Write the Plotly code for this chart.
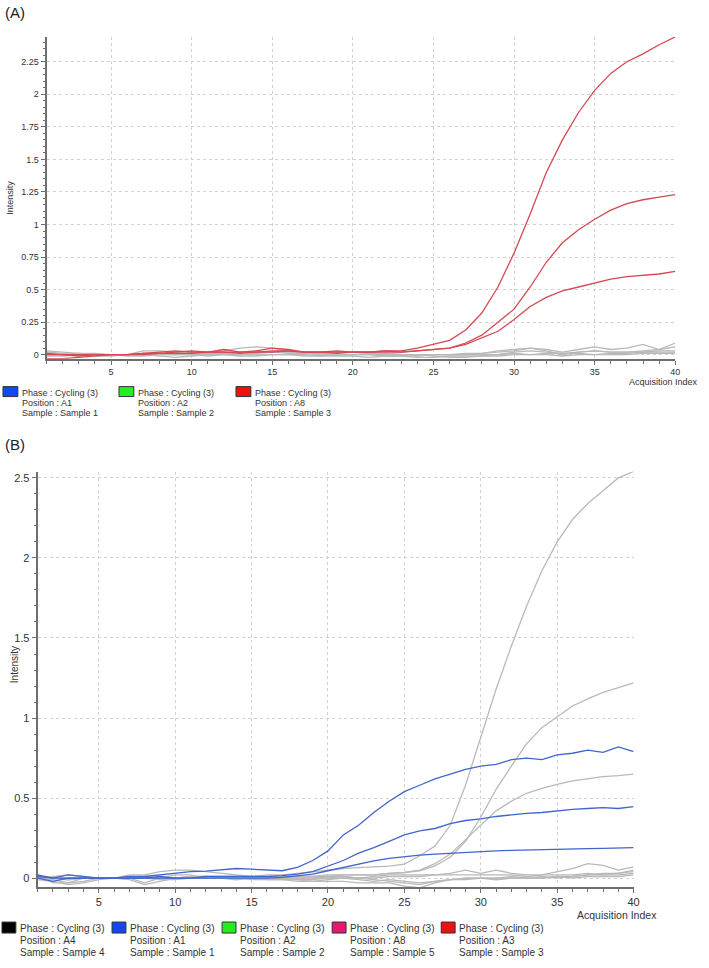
import plotly.graph_objects as go

W, H = 709, 968
cycles = list(range(1, 41))

# ---------------- Panel A data ----------------
a_red_1 = [0.01, 0.0, -0.01, 0.0, 0.0, 0.0, 0.01, 0.02, 0.03, 0.02, 0.02, 0.04, 0.02, 0.03, 0.05, 0.04,
           0.02, 0.02, 0.03, 0.02, 0.02, 0.03, 0.03, 0.05, 0.08, 0.11, 0.19, 0.32, 0.52, 0.78, 1.08, 1.40,
           1.65, 1.86, 2.03, 2.16, 2.25, 2.31, 2.38, 2.44]
a_red_2 = [-0.03, -0.03, -0.02, -0.01, 0.0, 0.0, 0.0, 0.01, 0.01, 0.01, 0.02, 0.02, 0.02, 0.02, 0.03, 0.03,
           0.02, 0.02, 0.02, 0.02, 0.02, 0.02, 0.02, 0.03, 0.04, 0.05, 0.09, 0.15, 0.25, 0.35, 0.52, 0.71,
           0.86, 0.96, 1.04, 1.11, 1.16, 1.19, 1.21, 1.23]
a_red_3 = [0.0, 0.0, 0.0, 0.0, 0.0, 0.0, 0.01, 0.01, 0.02, 0.03, 0.02, 0.02, 0.01, 0.02, 0.02, 0.03,
           0.02, 0.02, 0.01, 0.02, 0.02, 0.03, 0.02, 0.03, 0.04, 0.05, 0.08, 0.13, 0.18, 0.27, 0.37, 0.44,
           0.49, 0.52, 0.55, 0.58, 0.60, 0.61, 0.62, 0.64]
a_gray_1 = [0.03, 0.02, 0.01, 0.0, 0.0, 0.0, 0.03, 0.03, 0.02, 0.02, 0.02, 0.03, 0.05, 0.06, 0.05, 0.03,
            0.02, 0.02, 0.02, 0.02, 0.02, 0.01, 0.0, 0.0, -0.01, -0.02, -0.02, -0.01, 0.0, 0.02, 0.03, 0.02,
            0.01, 0.02, 0.03, 0.02, 0.02, 0.03, 0.04, 0.06]
a_gray_2 = [0.02, 0.01, 0.0, 0.0, 0.0, 0.0, 0.01, 0.0, 0.0, 0.01, 0.01, 0.01, 0.0, 0.01, 0.02, 0.01,
            0.01, 0.01, 0.0, 0.0, 0.01, 0.01, 0.0, 0.0, 0.0, 0.0, 0.01, 0.01, 0.02, 0.03, 0.05, 0.03,
            0.0, 0.02, 0.03, 0.02, 0.02, 0.02, 0.03, 0.03]
a_gray_3 = [0.0, 0.0, 0.01, 0.01, 0.0, 0.0, 0.0, 0.01, 0.0, 0.0, 0.0, 0.01, 0.02, 0.02, 0.02, 0.02,
            0.01, 0.0, 0.0, 0.0, 0.0, 0.0, 0.0, 0.0, 0.0, 0.0, 0.0, 0.01, 0.03, 0.04, 0.05, 0.04,
            0.02, 0.04, 0.06, 0.04, 0.05, 0.08, 0.04, 0.09]
a_gray_4 = [-0.01, -0.01, 0.0, 0.0, 0.0, -0.01, -0.01, 0.0, 0.0, 0.0, -0.01, 0.0, 0.0, 0.0, 0.0, 0.0,
            -0.01, -0.01, 0.0, 0.0, 0.0, -0.01, -0.01, -0.01, 0.0, 0.0, 0.0, 0.0, 0.0, 0.01, 0.0, 0.01,
            0.01, 0.01, 0.0, 0.01, 0.01, 0.02, 0.02, 0.02]
a_gray_5 = [0.01, 0.0, 0.0, -0.01, -0.01, 0.0, 0.0, -0.01, -0.02, -0.01, 0.0, 0.0, -0.01, -0.01, 0.0, 0.0,
            0.0, -0.01, -0.01, -0.01, -0.02, -0.01, -0.01, -0.02, -0.02, -0.01, -0.01, -0.01, -0.01, 0.0, 0.0, 0.0,
            -0.01, 0.0, 0.0, 0.0, 0.0, 0.01, 0.01, 0.01]

# ---------------- Panel B data ----------------
b_blue_1 = [0.02, 0.0, 0.02, 0.01, 0.0, 0.0, 0.01, 0.01, 0.02, 0.03, 0.04, 0.044, 0.05, 0.06, 0.056, 0.05,
            0.046, 0.067, 0.11, 0.17, 0.27, 0.33, 0.41, 0.48, 0.54, 0.58, 0.62, 0.65, 0.68, 0.70, 0.71, 0.74,
            0.75, 0.74, 0.77, 0.78, 0.80, 0.786, 0.82, 0.79]
b_blue_2 = [0.0, -0.02, 0.0, 0.0, 0.0, 0.0, 0.0, 0.0, 0.01, 0.0, 0.0, 0.01, 0.01, 0.01, 0.01, 0.01,
            0.015, 0.025, 0.04, 0.077, 0.11, 0.156, 0.19, 0.23, 0.27, 0.295, 0.31, 0.34, 0.36, 0.37, 0.385, 0.395,
            0.405, 0.41, 0.42, 0.43, 0.435, 0.44, 0.435, 0.447]
b_blue_3 = [0.01, 0.0, 0.0, 0.0, 0.0, 0.0, 0.0, 0.0, 0.0, 0.0, 0.0, 0.0, 0.0, 0.0, 0.0, 0.0,
            0.005, 0.015, 0.025, 0.046, 0.066, 0.087, 0.108, 0.123, 0.135, 0.143, 0.15, 0.156, 0.16, 0.166, 0.17, 0.173,
            0.176, 0.178, 0.18, 0.182, 0.184, 0.186, 0.187, 0.19]
b_gray_pos_1 = [0.0, -0.01, -0.03, -0.02, 0.0, 0.0, 0.0, 0.01, 0.0, 0.0, 0.01, 0.01, 0.01, 0.01, 0.01, 0.02,
                0.02, 0.03, 0.04, 0.05, 0.06, 0.065, 0.07, 0.075, 0.087, 0.14, 0.20, 0.33, 0.58, 0.88, 1.18, 1.45,
                1.70, 1.92, 2.10, 2.24, 2.34, 2.42, 2.50, 2.54]
b_gray_pos_2 = [0.0, 0.0, 0.0, 0.0, 0.0, 0.0, 0.0, 0.0, 0.0, 0.0, 0.0, 0.0, 0.0, 0.0, 0.0, 0.0,
                0.01, 0.01, 0.01, 0.02, 0.02, 0.02, 0.02, 0.03, 0.035, 0.046, 0.077, 0.13, 0.23, 0.38, 0.555, 0.70,
                0.84, 0.94, 1.01, 1.075, 1.12, 1.16, 1.19, 1.22]
b_gray_pos_3 = [0.0, 0.0, -0.01, 0.0, 0.0, 0.0, 0.0, 0.0, 0.0, 0.0, 0.0, 0.0, 0.0, 0.0, 0.0, 0.0,
                0.0, 0.01, 0.01, 0.01, 0.02, 0.02, 0.02, 0.03, 0.035, 0.05, 0.09, 0.15, 0.24, 0.33, 0.42, 0.48,
                0.53, 0.56, 0.586, 0.607, 0.62, 0.634, 0.64, 0.65]
b_gray_neg_1 = [0.02, -0.03, -0.03, 0.0, 0.0, 0.0, 0.0, -0.03, 0.0, 0.02, 0.02, 0.0, 0.0, -0.01, 0.0, 0.0,
                0.0, -0.01, -0.02, -0.02, -0.02, -0.03, -0.03, -0.03, -0.05, -0.06, -0.03, -0.01, 0.0, 0.0, -0.01, 0.0,
                0.0, 0.0, 0.01, 0.01, 0.02, 0.03, 0.03, 0.05]
b_gray_neg_2 = [0.0, 0.01, 0.02, 0.01, 0.0, 0.0, 0.02, 0.02, 0.04, 0.05, 0.05, 0.04, 0.03, 0.02, 0.01, 0.0,
                0.01, 0.0, 0.0, 0.0, 0.01, 0.0, 0.01, 0.02, 0.02, 0.02, 0.02, 0.03, 0.05, 0.03, 0.05, 0.03,
                0.02, 0.02, 0.04, 0.06, 0.09, 0.08, 0.05, 0.07]
b_gray_neg_3 = [0.01, 0.0, -0.01, 0.0, 0.0, 0.0, 0.0, 0.0, 0.0, 0.0, 0.01, 0.01, 0.0, 0.0, 0.0, -0.01,
                -0.01, -0.02, -0.02, -0.01, 0.0, -0.01, -0.02, -0.01, -0.02, -0.03, -0.02, -0.01, -0.01, 0.0, 0.0, 0.01,
                0.0, 0.01, 0.0, 0.01, 0.02, 0.02, 0.03, 0.04]
b_gray_neg_4 = [-0.01, -0.02, -0.04, -0.03, -0.01, 0.0, -0.01, -0.04, -0.02, 0.0, 0.0, 0.0, 0.0, 0.0, 0.0, 0.0,
                0.0, 0.0, 0.0, 0.01, 0.01, 0.0, 0.0, 0.01, 0.01, 0.01, 0.02, 0.02, 0.02, 0.02, 0.02, 0.02,
                0.01, 0.02, 0.02, 0.02, 0.03, 0.02, 0.02, 0.03]
b_gray_neg_5 = [0.0, 0.0, 0.0, 0.0, 0.0, 0.0, 0.0, 0.0, -0.01, -0.01, 0.0, 0.0, 0.0, 0.0, -0.01, -0.01,
                -0.01, -0.01, -0.01, 0.0, 0.0, 0.0, -0.01, -0.02, -0.03, -0.04, -0.02, -0.01, 0.0, 0.0, 0.0, 0.0,
                0.0, 0.0, 0.01, 0.0, 0.01, 0.01, 0.01, 0.02]

# ticks
x_tickvals = [5, 10, 15, 20, 25, 30, 35, 40]
x_ticktext = ["5", "10", "15", "20", "25", "30", "35", "40"]
a_y_tickvals = [0, 0.25, 0.5, 0.75, 1, 1.25, 1.5, 1.75, 2, 2.25]
a_y_ticktext = ["0", "0.25", "0.5", "0.75", "1", "1.25", "1.5", "1.75", "2", "2.25"]
b_y_tickvals = [0, 0.5, 1, 1.5, 2, 2.5]
b_y_ticktext = ["0", "0.5", "1", "1.5", "2", "2.5"]

# legends
a_legend_colors = ["#1447f2", "#22ee22", "#ee1111"]
a_legend_positions = ["A1", "A2", "A8"]
a_legend_samples = ["Sample 1", "Sample 2", "Sample 3"]
b_legend_colors = ["#000000", "#1447f2", "#22ee22", "#e8186c", "#ee1111"]
b_legend_positions = ["A4", "A1", "A2", "A8", "A3"]
b_legend_samples = ["Sample 4", "Sample 1", "Sample 2", "Sample 5", "Sample 3"]

RED = "rgb(214,72,82)"
BLUE = "rgb(66,100,205)"
GRAY = "rgb(185,185,185)"

fig = go.Figure()

for s in [a_gray_1, a_gray_2, a_gray_3, a_gray_4, a_gray_5]:
    fig.add_trace(go.Scatter(x=cycles, y=s, mode="lines", line=dict(color=GRAY, width=1.3),
                             xaxis="x", yaxis="y", showlegend=False, hoverinfo="skip"))
for s in [a_red_1, a_red_2, a_red_3]:
    fig.add_trace(go.Scatter(x=cycles, y=s, mode="lines", line=dict(color=RED, width=1.3),
                             xaxis="x", yaxis="y", showlegend=False, hoverinfo="skip"))

for s in [b_gray_neg_1, b_gray_neg_2, b_gray_neg_3, b_gray_neg_4, b_gray_neg_5,
          b_gray_pos_1, b_gray_pos_2, b_gray_pos_3]:
    fig.add_trace(go.Scatter(x=cycles, y=s, mode="lines", line=dict(color=GRAY, width=1.3),
                             xaxis="x2", yaxis="y2", showlegend=False, hoverinfo="skip"))
for s in [b_blue_1, b_blue_2, b_blue_3]:
    fig.add_trace(go.Scatter(x=cycles, y=s, mode="lines", line=dict(color=BLUE, width=1.3),
                             xaxis="x2", yaxis="y2", showlegend=False, hoverinfo="skip"))


def px(x):
    return x / W


def py(y):
    return 1 - y / H


AX = "#6e6e6e"
GRID = "#d2d2d2"
FA = dict(family="Liberation Sans, Arial, sans-serif", size=9, color="#333")
FB = dict(family="Liberation Sans Narrow, Liberation Sans, Arial, sans-serif", size=11, color="#333")

common_x = dict(range=[1, 40], tickmode="array", tickvals=x_tickvals, ticktext=x_ticktext,
                ticks="outside", ticklen=4, tickcolor=AX, showline=True, linecolor=AX, linewidth=2,
                showgrid=True, gridcolor=GRID, griddash="dot", gridwidth=1, zeroline=False,
                minor=dict(tickmode="linear", tick0=0, dtick=1, ticks="outside", ticklen=3,
                           tickcolor=AX, showgrid=False))

fig.update_layout(
    width=W, height=H, margin=dict(l=0, r=0, t=0, b=0),
    paper_bgcolor="white", plot_bgcolor="white", showlegend=False,
    xaxis=dict(domain=[px(47), px(681)], anchor="y", tickfont=FA, **common_x),
    yaxis=dict(domain=[py(359), py(37)], anchor="x", range=[-0.03, 2.44],
               tickmode="array", tickvals=a_y_tickvals, ticktext=a_y_ticktext, tickfont=FA,
               ticks="outside", ticklen=4, tickcolor=AX, showline=True, linecolor=AX, linewidth=2,
               showgrid=True, gridcolor=GRID, griddash="dot", gridwidth=1, zeroline=False,
               minor=dict(tickmode="linear", tick0=0, dtick=0.05, ticks="outside", ticklen=2,
                          tickcolor=AX, showgrid=False)),
    xaxis2=dict(domain=[px(38), px(639)], anchor="y2", tickfont=FB, **common_x),
    yaxis2=dict(domain=[py(888), py(472)], anchor="x2", range=[-0.056, 2.54],
                tickmode="array", tickvals=b_y_tickvals, ticktext=b_y_ticktext, tickfont=FB,
                ticks="outside", ticklen=4, tickcolor=AX, showline=True, linecolor=AX, linewidth=2,
                showgrid=True, gridcolor=GRID, griddash="dot", gridwidth=1, zeroline=False,
                minor=dict(tickmode="linear", tick0=0, dtick=0.1, ticks="outside", ticklen=2,
                           tickcolor=AX, showgrid=False)),
)

ann = []
shapes = []
ann.append(dict(text="(A)", x=px(3), y=py(13), xref="paper", yref="paper", xanchor="left", yanchor="middle",
                showarrow=False, font=dict(family="Liberation Sans, Arial", size=15, color="#222")))
ann.append(dict(text="(B)", x=px(3), y=py(445), xref="paper", yref="paper", xanchor="left", yanchor="middle",
                showarrow=False, font=dict(family="Liberation Sans, Arial", size=15, color="#222")))
ann.append(dict(text="Intensity", x=px(10), y=py(198), xref="paper", yref="paper", textangle=-90,
                xanchor="center", yanchor="middle", showarrow=False,
                font=dict(family="Liberation Sans Narrow, Liberation Sans", size=9, color="#333")))
ann.append(dict(text="Intensity", x=px(14), y=py(665), xref="paper", yref="paper", textangle=-90,
                xanchor="center", yanchor="middle", showarrow=False,
                font=dict(family="Liberation Sans Narrow, Liberation Sans", size=10, color="#333")))
ann.append(dict(text="Acquisition Index", x=px(706), y=py(382), xref="paper", yref="paper",
                xanchor="right", yanchor="middle", showarrow=False, font=FA))
ann.append(dict(text="Acquisition Index", x=px(665), y=py(916), xref="paper", yref="paper",
                xanchor="right", yanchor="middle", showarrow=False,
                font=dict(family="Liberation Sans Narrow, Liberation Sans, Arial", size=10.5, color="#333")))

# Legend A
a_box_x = [3, 120, 238]
for i in range(3):
    x0 = a_box_x[i]
    shapes.append(dict(type="rect", xref="paper", yref="paper", x0=px(x0), x1=px(x0 + 15),
                       y0=py(397), y1=py(387), fillcolor=a_legend_colors[i], line=dict(color="#333", width=1)))
    lines = ["Phase : Cycling (3)", "Position : " + a_legend_positions[i], "Sample : " + a_legend_samples[i]]
    for j, t in enumerate(lines):
        ann.append(dict(text=t, x=px(x0 + 17), y=py(393 + 10 * j), xref="paper", yref="paper",
                        xanchor="left", yanchor="middle", showarrow=False,
                        font=dict(family="Liberation Sans, Arial", size=9, color="#333")))

# Legend B
b_box_x = [2, 113, 224, 335, 445]
for i in range(5):
    x0 = b_box_x[i]
    shapes.append(dict(type="rect", xref="paper", yref="paper", x0=px(x0), x1=px(x0 + 14),
                       y0=py(934), y1=py(923), fillcolor=b_legend_colors[i], line=dict(color="#333", width=1)))
    lines = ["Phase : Cycling (3)", "Position : " + b_legend_positions[i], "Sample : " + b_legend_samples[i]]
    for j, t in enumerate(lines):
        ann.append(dict(text=t, x=px(x0 + 16), y=py(929 + 12 * j), xref="paper", yref="paper",
                        xanchor="left", yanchor="middle", showarrow=False,
                        font=dict(family="Liberation Sans Narrow, Liberation Sans, Arial", size=10, color="#333")))

fig.update_layout(annotations=ann, shapes=shapes)
fig.write_html("out.html", config={"displayModeBar": False},
               post_script="document.body.style.margin='0px';document.body.style.padding='0px';")
